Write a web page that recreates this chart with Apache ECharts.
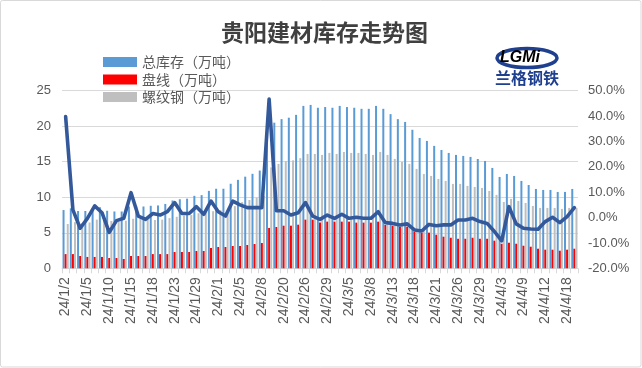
<!DOCTYPE html>
<html>
<head>
<meta charset="utf-8">
<script src="https://cdn.jsdelivr.net/npm/echarts@6/dist/echarts.min.js"></script>
<style>html,body{margin:0;padding:0;background:#fff;}#c{width:642px;height:368px;}</style>
</head>
<body>
<div id="c"></div>
<script>
var categories = ['24/1/2','24/1/3','24/1/4','24/1/5','24/1/8','24/1/9','24/1/10','24/1/11','24/1/12','24/1/15',
'24/1/16','24/1/17','24/1/18','24/1/19','24/1/22','24/1/23','24/1/24','24/1/26','24/1/29','24/1/30',
'24/1/31','24/2/1','24/2/2','24/2/4','24/2/5','24/2/6','24/2/7','24/2/8','24/2/18','24/2/19',
'24/2/20','24/2/21','24/2/23','24/2/26','24/2/27','24/2/28','24/2/29','24/3/1','24/3/4','24/3/5',
'24/3/6','24/3/7','24/3/8','24/3/11','24/3/12','24/3/13','24/3/14','24/3/15','24/3/18','24/3/19',
'24/3/20','24/3/21','24/3/22','24/3/25','24/3/26','24/3/27','24/3/28','24/3/29','24/4/1','24/4/2',
'24/4/3','24/4/7','24/4/8','24/4/9','24/4/10','24/4/11','24/4/12','24/4/15','24/4/17','24/4/18','24/4/19'];

var totalStock = [8.2,8.45,8.07,8.07,8.45,8.6,8.1,8.0,8.0,8.7,
8.75,8.7,8.8,8.85,9.06,9.55,9.72,9.8,10.2,10.3,
10.9,11.2,11.2,11.9,12.45,12.9,13.3,13.76,20.1,20.5,
21.0,21.2,21.6,22.86,23.0,22.6,22.7,22.6,22.86,22.7,
22.6,22.45,22.45,22.86,22.45,21.7,21.0,20.6,19.5,18.35,
17.93,17.23,16.66,16.24,15.96,15.82,15.68,15.39,15.11,14.13,
12.86,13.28,13.0,12.3,11.73,11.17,11.03,11.03,10.75,10.75,11.17];

var wireRod = [2.0,2.0,1.73,1.6,1.6,1.6,1.45,1.45,1.31,1.73,
1.73,1.73,2.0,2.0,2.0,2.3,2.3,2.3,2.44,2.44,
2.86,3.0,3.0,3.14,3.14,3.28,3.42,3.56,5.68,5.82,
6.0,6.0,6.14,6.85,6.85,6.43,6.57,6.57,6.57,6.57,
6.43,6.43,6.43,6.57,6.1,6.0,5.87,5.87,5.16,5.02,
5.02,4.73,4.45,4.3,4.16,4.16,4.3,4.16,4.16,3.89,
3.46,3.6,3.46,3.18,3.04,2.76,2.62,2.62,2.48,2.62,2.76];

var rebar = [6.24,6.5,6.34,6.45,6.85,7.0,6.65,6.55,6.7,6.97,
7.0,6.97,6.8,6.85,7.06,7.25,7.42,7.5,7.76,7.86,
8.04,8.2,8.2,8.76,9.31,9.62,9.95,10.2,14.2,14.7,
15.1,15.2,15.5,16.1,16.1,15.96,16.24,16.1,16.38,16.24,
16.24,16.1,15.96,16.38,15.96,15.4,14.97,14.7,13.99,13.28,
13.0,12.58,12.3,11.88,11.88,11.6,11.45,11.31,10.89,10.33,
9.34,9.77,9.48,9.2,8.78,8.5,8.5,8.5,8.36,8.5,8.5];

var changePct = [39.8,3.0,-4.2,-0.3,4.6,1.9,-5.8,-1.2,-0.3,9.8,
0.6,-0.7,1.6,1.0,2.3,5.9,1.6,1.6,4.3,1.3,
6.5,2.3,0.6,6.5,5.0,3.9,3.9,3.9,46.7,2.7,
2.7,1.0,1.9,5.9,0.6,-0.7,1.0,-0.3,1.3,-0.3,
0.1,-0.3,-0.3,2.3,-2.0,-2.3,-2.9,-2.5,-4.9,-5.3,
-2.7,-3.2,-2.9,-2.9,-0.96,-0.96,-0.3,-1.6,-2.3,-5.5,
-9.2,4.3,-2.5,-4.2,-4.5,-4.6,-1.6,0.1,-2.0,0.4,3.9];

var leftTicks = {min: 0, max: 25, interval: 5};
var rightTicks = {min: -20, max: 50, interval: 10};

var chart = echarts.init(document.getElementById('c'), null, {renderer: 'canvas'});
var labelColor = '#595959';
var numFont = 'Liberation Sans, Arial, sans-serif';
var cjkFont = 'Noto Sans CJK SC, sans-serif';

chart.setOption({
  animation: false,
  backgroundColor: '#fff',
  title: {
    text: '贵阳建材库存走势图',
    left: 221, top: 21, padding: 0,
    textStyle: {fontFamily: cjkFont, fontWeight: 'bold', fontSize: 23, color: '#404040'}
  },
  legend: {
    orient: 'vertical', left: 103, top: 55, padding: 0,
    itemWidth: 34, itemHeight: 10, itemGap: 3.5,
    data: ['总库存（万吨）', '盘线（万吨）', '螺纹钢（万吨）'],
    textStyle: {fontFamily: cjkFont, fontSize: 14, color: labelColor},
    icon: 'rect'
  },
  grid: {left: 62, right: 64, top: 90.7, bottom: 99.7, containLabel: false},
  xAxis: {
    type: 'category', data: categories, boundaryGap: true,
    axisLine: {lineStyle: {color: '#d9d9d9'}},
    axisTick: {show: true, length: 5, interval: 0, lineStyle: {color: '#d9d9d9'}},
    axisLabel: {interval: 2, rotate: 90, margin: 9, fontFamily: numFont, fontSize: 14, color: labelColor}
  },
  yAxis: [{
    type: 'value', min: leftTicks.min, max: leftTicks.max, interval: leftTicks.interval,
    axisLine: {show: false}, axisTick: {show: false},
    splitLine: {lineStyle: {color: '#d9d9d9'}},
    axisLabel: {margin: 11, fontFamily: numFont, fontSize: 13, color: labelColor}
  }, {
    type: 'value', min: rightTicks.min, max: rightTicks.max, interval: rightTicks.interval,
    position: 'right',
    axisLine: {show: false}, axisTick: {show: false}, splitLine: {show: false},
    axisLabel: {margin: 10, fontFamily: numFont, fontSize: 13, color: labelColor,
      formatter: function (v) { return v.toFixed(1) + '%'; }}
  }],
  series: [{
    name: '总库存（万吨）', type: 'bar', data: totalStock, barWidth: 2, barGap: '5%',
    itemStyle: {color: '#5b9bd5'}
  }, {
    name: '盘线（万吨）', type: 'bar', data: wireRod, barWidth: 2, barGap: '5%',
    itemStyle: {color: '#ff0000'}
  }, {
    name: '螺纹钢（万吨）', type: 'bar', data: rebar, barWidth: 2, barGap: '5%',
    itemStyle: {color: '#bfbfbf'}
  }, {
    name: '环比', type: 'line', yAxisIndex: 1, data: changePct, showSymbol: false, symbol: 'none',
    lineStyle: {color: '#34599b', width: 3.6, join: 'round', cap: 'round'}, z: 5
  }],
  graphic: [{
    type: 'rect', shape: {x: 0.5, y: 0.5, width: 640.5, height: 366.5, r: 2},
    style: {fill: 'none', stroke: '#d9d9d9', lineWidth: 1}, silent: true
  }, {
    type: 'ellipse', shape: {cx: 527, cy: 58, rx: 30, ry: 9.5},
    style: {fill: '#fff', stroke: '#1f3f8f', lineWidth: 3.5}
  }, {
    type: 'text', left: 500, top: 50,
    style: {text: '{a|LG}{b|M}{c|i}', rich: {
      a: {fontFamily: numFont, fontWeight: 'bold', fontStyle: 'italic', fontSize: 16, color: '#2b2b2b'},
      b: {fontFamily: numFont, fontWeight: 'bold', fontStyle: 'italic', fontSize: 16, color: '#2b2b2b'},
      c: {fontFamily: numFont, fontWeight: 'bold', fontStyle: 'italic', fontSize: 16, color: '#e60012'}
    }}
  }, {
    type: 'text', left: 495, top: 70,
    style: {text: '兰格钢铁', fontFamily: cjkFont, fontWeight: 'bold', fontSize: 16, fill: '#1f3f8f'}
  }]
});
</script>
</body>
</html>
